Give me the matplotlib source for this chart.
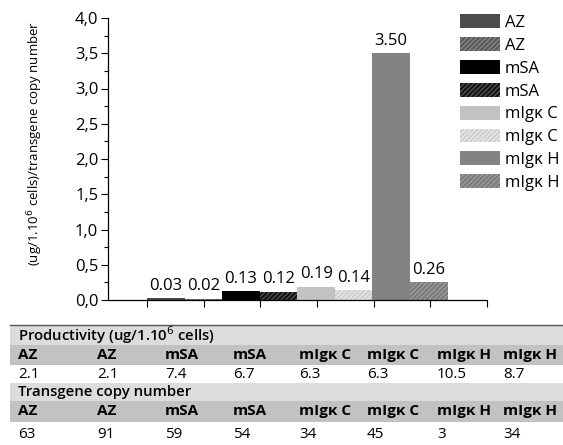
import matplotlib
matplotlib.use('Agg')
import matplotlib.pyplot as plt
from matplotlib.patches import Rectangle
from matplotlib.ticker import MultipleLocator, FuncFormatter

plt.rcParams['font.family'] = ['Open Sans', 'DejaVu Sans']
plt.rcParams['hatch.linewidth'] = 0.8

names = ['AZ', 'AZ', 'mSA', 'mSA', 'mIgκ C', 'mIgκ C', 'mIgκ H', 'mIgκ H']
ratio = [0.03, 0.02, 0.13, 0.12, 0.19, 0.14, 3.50, 0.26]
productivity = ['2.1', '2.1', '7.4', '6.7', '6.3', '6.3', '10.5', '8.7']
copies = ['63', '91', '59', '54', '34', '45', '3', '34']

faces = ['#4b4b4b', '#5a5a5a', '#000000', '#141414', '#c2c2c2', '#d0d0d0', '#838383', '#7c7c7c']
hatch_col = ['#4b4b4b', '#8c8c8c', '#000000', '#5a5a5a', '#c2c2c2', '#ececec', '#838383', '#a0a0a0']
hatches = [None, '///////', None, '///////', None, '///////', None, '///////']

W, H = 563, 445
fig = plt.figure(figsize=(W / 100, H / 100), dpi=100)


def fx(px):
    return px / W


def fy(py):
    return 1 - py / H


ax = fig.add_axes([fx(108), fy(300), fx(487) - fx(108), fy(18) - fy(300)])
bw = 0.663
for i, v in enumerate(ratio):
    ax.bar(1 + i * bw, v, width=bw, align='edge', color=faces[i],
           edgecolor=hatch_col[i], hatch=hatches[i], linewidth=0, label=names[i])
    ax.annotate(f'{v:.2f}', (1 + (i + 0.5) * bw, v), xytext=(0, 3),
                textcoords='offset points', ha='center', va='bottom', fontsize=12)

ax.set_xlim(0.31, 7.0)
ax.set_ylim(0, 4.0)
ax.set_xticks(range(1, 8))
ax.set_xticklabels([])
ax.yaxis.set_major_locator(MultipleLocator(0.5))
ax.yaxis.set_minor_locator(MultipleLocator(0.25))
ax.yaxis.set_major_formatter(FuncFormatter(lambda v, p: f'{v:.1f}'.replace('.', ',')))
ax.tick_params(axis='both', which='major', direction='out', length=5, width=0.8, labelsize=12, pad=2)
ax.tick_params(axis='y', which='minor', direction='out', length=3, width=0.8)
for s in ['top', 'right']:
    ax.spines[s].set_visible(False)
for s in ['left', 'bottom']:
    ax.spines[s].set_linewidth(0.9)

fig.text(fx(35), fy(143), '(ug/1.10$^{6}$ cells)/transgene copy number', rotation=90,
         ha='center', va='center', fontsize=9.5)

leg = ax.legend(loc='upper left', bbox_to_anchor=(fx(452), fy(6)), bbox_transform=fig.transFigure,
                frameon=False, fontsize=12, handlelength=2.35, handleheight=0.9,
                labelspacing=0.37, handletextpad=0.3, borderpad=0)

# table below the chart
rows = [('#dcdcdc', 325, 345), ('#c2c2c2', 345, 365), ('#ffffff', 365, 383),
        ('#dcdcdc', 383, 401), ('#c2c2c2', 401, 422), ('#ffffff', 422, 445)]
for col, y0, y1 in rows:
    fig.patches.append(Rectangle((fx(10), fy(y1)), 1 - fx(10), fy(y0) - fy(y1),
                                 transform=fig.transFigure, facecolor=col, edgecolor='none'))
fig.add_artist(plt.Line2D([fx(10), 1], [fy(325), fy(325)], color='#555555', lw=1))

col_x = [18, 97, 165, 233, 299, 367, 437, 503]
fig.text(fx(18), fy(335), 'Productivity (ug/1.10$^{6}$ cells)', fontsize=10.7,
         fontweight='semibold', va='center')
fig.text(fx(18), fy(392), 'Transgene copy number', fontsize=10.7,
         fontweight='semibold', va='center')
for i in range(8):
    fig.text(fx(col_x[i]), fy(355), names[i], fontsize=11, fontweight='bold', va='center')
    fig.text(fx(col_x[i]), fy(374), productivity[i], fontsize=11, va='center')
    fig.text(fx(col_x[i]), fy(411), names[i], fontsize=11, fontweight='bold', va='center')
    fig.text(fx(col_x[i]), fy(435), copies[i], fontsize=11, va='center')

fig.savefig('out.png', dpi=100)
